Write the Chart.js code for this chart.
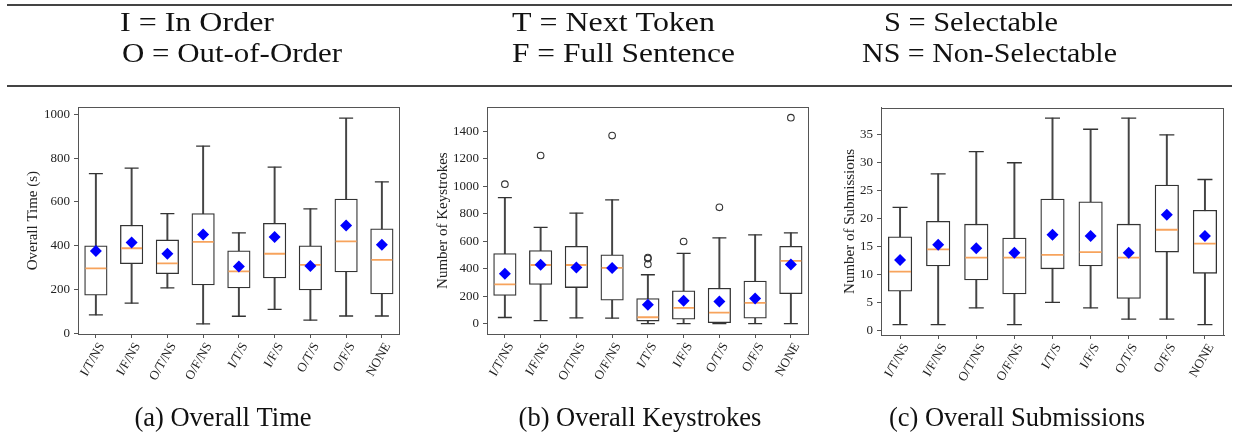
<!DOCTYPE html>
<html><head><meta charset="utf-8">
<script src="https://cdn.jsdelivr.net/npm/chart.js@4.4.0/dist/chart.umd.min.js"></script>
<style>
html,body{margin:0;padding:0;background:#fff;}
body{width:1238px;height:442px;overflow:hidden;position:relative;}
#bg{position:absolute;left:0;top:0;}
.pn{position:absolute;top:95px;}
</style></head><body>
<canvas id="bg" width="1238" height="442"></canvas>
<div class="pn" style="left:0px"><canvas id="ca" width="412" height="300"></canvas></div>
<div class="pn" style="left:412px"><canvas id="cb" width="409" height="300"></canvas></div>
<div class="pn" style="left:821px"><canvas id="cc" width="417" height="300"></canvas></div>

<script>
const categories = ['I/T/NS','I/F/NS','O/T/NS','O/F/NS','I/T/S','I/F/S','O/T/S','O/F/S','NONE'];

// (a) Overall Time (s)
const timeLow    = [85, 139, 208, 44, 79, 110, 61, 80, 80];
const timeQ1     = [175, 319, 273, 222, 208, 254, 199, 281, 181];
const timeMedian = [297, 389, 320, 418, 284, 364, 313, 420, 336];
const timeQ3     = [400, 494, 427, 547, 377, 503, 400, 613, 478];
const timeHigh   = [729, 754, 547, 855, 459, 759, 569, 982, 692];
const timeMean   = [377, 415, 364, 452, 306, 440, 308, 493, 405];
const timeOutliers = [];
const timeTicks  = [0, 200, 400, 600, 800, 1000];

// (b) Number of Keystrokes
const keyLow    = [45, 23, 42, 40, 0, 0, 0, 0, 0];
const keyQ1     = [206, 286, 263, 171, 19, 33, 7, 40, 218];
const keyMedian = [286, 427, 427, 406, 47, 115, 80, 152, 457];
const keyQ3     = [511, 532, 563, 502, 183, 240, 258, 310, 563];
const keyHigh   = [917, 701, 804, 901, 356, 511, 624, 647, 661];
const keyMean   = [364, 429, 408, 406, 138, 167, 162, 183, 430];
const keyOutlierCats = ['I/T/NS','I/F/NS','O/F/NS','I/T/S','I/T/S','I/T/S','I/F/S','O/T/S','NONE'];
const keyOutlierVals = [1015, 1224, 1369, 481, 474, 432, 598, 847, 1499];
const keyTicks  = [0, 200, 400, 600, 800, 1000, 1200, 1400];

// (c) Number of Submissions
const subLow    = [1, 1, 4, 1, 5, 4, 2, 2, 1];
const subQ1     = [7, 11.5, 9, 6.5, 11, 11.5, 5.7, 14, 10.2];
const subMedian = [10.5, 14.5, 13, 13, 13.5, 14, 13, 18, 15.5];
const subQ3     = [16.75, 19.5, 19, 16.5, 23.5, 23, 19, 26, 21.5];
const subHigh   = [22, 28, 32, 30, 38, 36, 38, 35, 27];
const subMean   = [12.6, 15.3, 14.7, 13.9, 17.1, 16.9, 13.9, 20.7, 16.9];
const subTicks  = [0, 5, 10, 15, 20, 25, 30, 35];

// header legend and captions
const headerRow1 = ['I = In Order', 'T = Next Token', 'S = Selectable'];
const headerRow2 = ['O = Out-of-Order', 'F = Full Sentence', 'NS = Non-Selectable'];
const captions = ['(a) Overall Time', '(b) Overall Keystrokes', '(c) Overall Submissions'];

const FONT = "'Liberation Serif','Times New Roman',Tinos,serif";

(function drawFrameText() {
  const c = document.getElementById('bg').getContext('2d');
  c.fillStyle = '#fff'; c.fillRect(0, 0, 1238, 442);
  c.fillStyle = '#444';
  c.fillRect(7, 4, 1225, 2);
  c.fillRect(7, 85, 1225, 2);
  c.fillStyle = '#111';
  c.textBaseline = 'alphabetic';
  c.font = '28px ' + FONT;
  c.textAlign = 'left';
  // left edge and rendered width of each header cell
  const pos1 = [[120, 154], [512, 203], [884, 174]];
  const pos2 = [[122, 220], [512, 223], [862, 255]];
  const draw = (t, x, y, w) => {
    const m = c.measureText(t).width;
    c.save(); c.translate(x, y); c.scale(w / m, 1); c.fillText(t, 0, 0); c.restore();
  };
  headerRow1.forEach((t, i) => draw(t, pos1[i][0], 31, pos1[i][1]));
  headerRow2.forEach((t, i) => draw(t, pos2[i][0], 62, pos2[i][1]));
  c.font = '26.5px ' + FONT;
  c.textAlign = 'center';
  const cx = [223, 640, 1017];
  captions.forEach((t, i) => c.fillText(t, cx[i], 426));
})();

const framePlugin = {
  id: 'frame',
  afterDatasetsDraw(chart) {
    const a = chart.chartArea, c = chart.ctx;
    c.save();
    c.strokeStyle = '#555';
    c.lineWidth = 1;
    c.strokeRect(Math.round(a.left) + 0.5, Math.round(a.top) + 0.5, Math.round(a.right - a.left) - 1, Math.round(a.bottom - a.top));
    c.restore();
  }
};

function makeChart(id, p) {
  const pts = (cats, vals) => vals.map((v, i) => ({x: cats[i], y: v}));
  const datasets = [
    { type: 'bar', data: p.low.map((v, i) => [v, p.high[i]]), backgroundColor: '#444',
      borderWidth: 0, barThickness: 1.3, grouped: false, order: 6 },
    { type: 'bar', data: p.q1.map((v, i) => [v, p.q3[i]]), backgroundColor: '#ffffff',
      borderColor: '#333', borderWidth: 1.3, borderSkipped: false, barThickness: p.boxW, grouped: false, order: 5 },
    { type: 'line', data: pts(categories, p.low).concat(pts(categories, p.high)), showLine: false,
      pointStyle: 'line', pointRadius: p.capR, borderColor: '#333', borderWidth: 1.3, order: 4 },
    { type: 'line', data: p.median, showLine: false, pointStyle: 'line', pointRadius: p.boxW / 2 - 0.8,
      borderColor: '#f7a35c', borderWidth: 1.8, order: 3 },
    { type: 'line', data: p.mean, showLine: false, pointStyle: 'rectRot', pointRadius: 6,
      backgroundColor: '#0000ff', borderColor: '#0000ff', borderWidth: 0, order: 1 },
    { type: 'line', data: pts(p.outCats, p.outVals), showLine: false, pointStyle: 'circle', pointRadius: 3.3,
      backgroundColor: 'rgba(0,0,0,0)', borderColor: '#333', borderWidth: 1.1, order: 2 }
  ];
  return new Chart(document.getElementById(id), {
    type: 'bar',
    data: { labels: categories, datasets },
    plugins: [framePlugin],
    options: {
      responsive: false, animation: false, devicePixelRatio: 1,
      layout: { padding: { left: p.padL, top: p.padT, right: p.padR, bottom: 0 } },
      plugins: { legend: { display: false }, tooltip: { enabled: false } },
      elements: { point: { hoverRadius: 0 } },
      scales: {
        x: {
          type: 'category', offset: true,
          grid: { display: true, offset: false, drawOnChartArea: false, tickLength: 4, color: '#555' },
          border: { display: true, color: '#555', width: 1 },
          ticks: { autoSkip: false, maxRotation: 60, minRotation: 60, padding: 2, labelOffset: 6,
                   color: '#222', font: { family: FONT, size: 13 } },
          afterFit(s) { s.height = p.xH; }
        },
        y: {
          min: p.min, max: p.max,
          afterBuildTicks(s) { s.ticks = p.ticks.map(v => ({ value: v })); },
          grid: { display: true, drawOnChartArea: false, tickLength: 4, color: '#555' },
          border: { display: true, color: '#555', width: 1 },
          ticks: { padding: 4, color: '#222', font: { family: FONT, size: 13 }, callback: v => String(v) },
          title: { display: true, text: p.title, color: '#222', font: { family: FONT, size: 15 }, padding: { top: 4, bottom: 4 } },
          afterFit(s) { s.width = p.yW; }
        }
      }
    }
  });
}

makeChart('ca', { low: timeLow, q1: timeQ1, median: timeMedian, q3: timeQ3, high: timeHigh, mean: timeMean,
  outCats: [], outVals: timeOutliers, ticks: timeTicks, min: -2, max: 1032, title: 'Overall Time (s)',
  padL: 20, padT: 5, padR: 6, yW: 58, xH: 61, boxW: 22.5, capR: 7 });
makeChart('cb', { low: keyLow, q1: keyQ1, median: keyMedian, q3: keyQ3, high: keyHigh, mean: keyMean,
  outCats: keyOutlierCats, outVals: keyOutlierVals, ticks: keyTicks, min: -75, max: 1575, title: 'Number of Keystrokes',
  padL: 18, padT: 4.5, padR: 6, yW: 57, xH: 61, boxW: 22.5, capR: 7 });
makeChart('cc', { low: subLow, q1: subQ1, median: subMedian, q3: subQ3, high: subHigh, mean: subMean,
  outCats: [], outVals: [], ticks: subTicks, min: -0.85, max: 39.85, title: 'Number of Submissions',
  padL: 16, padT: 4.5, padR: 14, yW: 44, xH: 60, boxW: 23.5, capR: 7.5 });
</script>
</body></html>
